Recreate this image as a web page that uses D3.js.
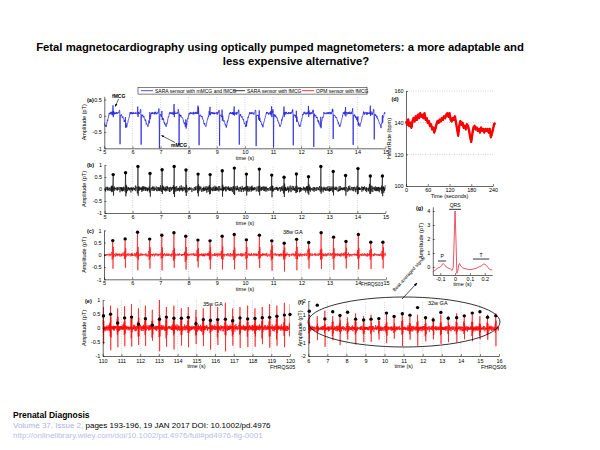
<!DOCTYPE html>
<html><head><meta charset="utf-8">
<script src="https://cdn.jsdelivr.net/npm/d3@7"></script>
<style>body{margin:0;background:#fff} text{font-family:"Liberation Sans",Arial,sans-serif}</style>
</head><body><svg id="c" width="600" height="450"></svg>
<script>
// ---------- data ----------
const titleLines = ["Fetal magnetocardiography using optically  pumped magnetometers: a more adaptable and", "less expensive alternative?"];
const legendLabels = ["SARA sensor with mMCG and fMCG", "SARA sensor with fMCG", "OPM sensor with fMCG"];
const noise = [0.3,-0.5,0.8,-0.2,0.1,-0.9,0.6,0.2,-0.4,0.7,-0.7,0.0,0.5,-0.3,0.9,-0.6,0.2,-0.1,0.4,-0.8,0.6,-0.2,0.3,-0.5,0.1,0.8,-0.4,0.2,-0.7,0.5,-0.1,0.6,-0.3,0.0,0.7,-0.9,0.4,-0.2,0.3,-0.6,0.9,-0.4,0.1,-0.3,0.5,-0.7,0.2,0.6,-0.5,0.3,-0.1,0.8,-0.6,0.4,-0.2,0.0,0.5,-0.8,0.3,-0.4,0.7,-0.1,0.2,-0.5,0.6,-0.3,0.9,-0.7,0.1,0.4,-0.2,0.5,-0.6,0.3,-0.9,0.2,0.7,-0.4,0.1,-0.3,0.6,-0.5,0.4,-0.1,0.8,-0.2,0.3,-0.7,0.5,-0.4,0.2,0.0,-0.6,0.7,-0.3,0.4,-0.8,0.1,0.6,-0.2];
// fetal beats (panels a,b,c)
const fetalTimes = [5.31,5.75,6.19,6.62,7.05,7.48,7.9,8.33,8.76,9.19,9.62,10.05,10.51,10.95,11.39,11.83,12.26,12.7,13.14,13.58,14.02,14.46,14.89];
const dotsB = [0.6,0.68,0.94,0.65,0.8,0.94,0.79,0.62,0.6,0.76,0.87,0.62,0.83,0.58,0.49,0.63,0.51,0.94,0.73,0.56,0.85,0.54,0.54];
const dotsC = [0.58,0.65,0.92,0.64,0.8,0.9,0.76,0.6,0.57,0.76,0.83,0.61,0.8,0.57,0.47,0.63,0.5,0.9,0.72,0.54,0.83,0.51,0.51];
const fetalA = [0.22,0.2,0.18,0.22,0.2,0.25,0.2,0.18,0.2,0.22,0.2,0.18,0.22,0.2,0.18,0.2,0.22,0.25,0.2,0.18,0.22,0.2,0.2];
// maternal beats (panel a)
const maternalTimes = [4.82,5.56,6.31,6.96,7.66,8.37,9.1,9.8,10.4,11.02,11.72,12.45,13.14,13.85,14.6];
const maternalAmp = [-1.0,-0.95,-1.0,-1.08,-1.0,-1.0,-1.0,-0.98,-1.0,-0.98,-1.0,-1.03,-1.0,-0.98,-0.78];
// panel e
const eTimes = [110.04,110.42,110.8,111.17,111.54,111.91,112.28,112.65,113.03,113.4,113.8,114.2,114.57,114.98,115.37,115.75,116.14,116.55,116.94,117.33,117.74,118.13,118.52,118.91,119.3,119.7,120.0];
const eDots = [0.43,0.49,0.18,0.36,0.39,0.14,0.33,0.1,0.31,0.39,0.35,0.35,0.38,0.15,0.3,0.27,0.3,0.31,0.26,0.36,0.32,0.34,0.37,0.38,0.42,0.46,0.48];
const eSpike = [0.75,0.8,0.7,0.78,0.85,0.7,0.8,0.65,1.0,0.75,0.8,0.7,0.75,0.65,0.7,0.8,0.75,0.9,0.7,0.75,0.8,0.7,0.75,0.85,0.8,0.9,0.85];
// panel f
const fTimes = [6.05,6.47,6.87,7.28,7.66,8.06,8.48,8.9,9.29,9.7,10.1,10.5,10.93,11.33,11.73,12.15,12.55,12.95,13.34,13.78,14.18,14.6,15.0,15.4,15.83];
const fDots = [1.25,1.7,0.7,1.22,0.95,1.18,0.68,0.62,0.68,0.72,1.12,0.88,1.07,0.97,1.52,0.78,0.62,1.17,0.75,0.78,0.92,1.12,1.22,0.82,0.92];
const fSpike = [1.0,0.9,1.3,0.9,1.0,0.8,1.1,0.9,1.0,0.8,1.0,0.9,1.2,0.9,1.0,0.9,0.8,1.0,0.9,1.1,0.9,1.0,0.9,1.0,1.1];
// panel d heart rate (every 3 s)
const hrValues = [141,139,142,138,140,137,141,143,141,144,142,145,143,146,144,145,143,146,142,143,140,141,138,139,136,137,134,136,139,141,140,142,141,143,142,144,143,145,146,144,146,142,141,143,142,144,140,136,132,138,141,139,140,137,138,136,139,138,135,131,128,133,137,138,136,137,135,136,134,137,135,136,134,136,135,136,134,136,131,133,136,139,140];
// panel g beat-averaged signal
const gTime = [-0.15,-0.13,-0.12,-0.11,-0.10,-0.09,-0.085,-0.08,-0.07,-0.06,-0.05,-0.04,-0.03,-0.02,-0.012,-0.006,0,0.006,0.012,0.018,0.025,0.03,0.04,0.05,0.06,0.08,0.1,0.12,0.14,0.16,0.18,0.19,0.2,0.21,0.22,0.23,0.24,0.25];
const gValue = [-0.35,-0.2,-0.1,-0.05,0.0,0.1,0.22,0.25,0.15,0.0,-0.05,-0.1,-0.15,-0.25,0.0,2.0,4.0,2.0,-0.45,-0.3,0.15,0.25,0.05,-0.05,-0.1,-0.15,-0.2,-0.15,-0.1,0.0,0.1,0.2,0.2,0.12,0.0,-0.15,-0.2,-0.2];
// ticks
const ticks5to15 = [5,6,7,8,9,10,11,12,13,14,15];
const ticksE = [110,111,112,113,114,115,116,117,118,119,120];
const ticksF = [6,7,8,9,10,11,12,13,14,15,16];

// ---------- helpers ----------
const svg = d3.select("#c");
svg.append("rect").attr("width",600).attr("height",450).attr("fill","#fff");
const defs = svg.append("defs");
defs.append("marker").attr("id","arr").attr("viewBox","0 0 10 10").attr("refX",9).attr("refY",5)
  .attr("markerWidth",5).attr("markerHeight",5).attr("orient","auto")
  .append("path").attr("d","M0,1L10,5L0,9Z").attr("fill","#000");

const FS = 5.5;
const dt = 0.01;
let clipId = 0;

function panel(o){
  const x = d3.scaleLinear().domain(o.xDom).range([o.l,o.r]);
  const y = d3.scaleLinear().domain(o.yDom).range([o.b,o.t]);
  const g = svg.append("g");
  const id = "clip"+(clipId++);
  defs.append("clipPath").attr("id",id).append("rect").attr("x",o.l).attr("y",o.t).attr("width",o.r-o.l).attr("height",o.b-o.t);
  if(o.vgrid){
    g.selectAll(".vg").data(o.xTicks.slice(1,-1)).join("line")
      .attr("x1",d=>x(d)).attr("x2",d=>x(d)).attr("y1",o.b).attr("y2",o.t)
      .attr("stroke","#8a8a8a").attr("stroke-width",0.5).attr("stroke-dasharray","0.8,1.6");
  }
  if(o.hgrid){
    g.selectAll(".hg").data(o.hgrid).join("line")
      .attr("y1",d=>y(d)).attr("y2",d=>y(d)).attr("x1",o.l).attr("x2",o.r)
      .attr("stroke","#8a8a8a").attr("stroke-width",0.5).attr("stroke-dasharray","0.8,1.6");
  }
  const plot = g.append("g").attr("clip-path",`url(#${id})`);
  const ax = g.append("g").attr("transform",`translate(0,${o.b})`)
    .call(d3.axisBottom(x).tickValues(o.xTicks).tickSizeInner(-2).tickSizeOuter(0).tickPadding(o.xPad||2.2).tickFormat(d=>String(d)));
  const ay = g.append("g").attr("transform",`translate(${o.l},0)`)
    .call(d3.axisLeft(y).tickValues(o.yTicks).tickSizeInner(-2).tickSizeOuter(0).tickPadding(2.4).tickFormat(d=>String(d)));
  [ax,ay].forEach(a=>{a.selectAll("text").attr("font-size",FS).attr("fill","#000").attr("font-family","Liberation Sans, Arial");
    a.selectAll("line").attr("stroke","#000").attr("stroke-width",0.5);
    a.select(".domain").attr("stroke","#000").attr("stroke-width",0.6);});
  g.append("text").attr("x",(o.l+o.r)/2).attr("y",o.b+ (o.xlabDy||11.5)).attr("text-anchor","middle").attr("font-size",FS).text(o.xlabel);
  g.append("text").attr("transform",`translate(${o.ylabX},${(o.t+o.b)/2}) rotate(-90)`).attr("text-anchor","middle").attr("font-size",FS).text(o.ylabel);
  g.append("text").attr("x",o.tagX).attr("y",o.tagY).attr("font-size",FS).attr("font-weight","bold").text(o.tag);
  return {x,y,g,plot};
}

function makeBeat(t, offs, vals, peak){
  return {t:Math.round(t*100)/100, s:d3.scaleLinear().domain(offs).range(vals), lo:offs[0], hi:offs[offs.length-1], peak};
}
function trace(t0,t1,base,namp,off,beats){
  const n = Math.round((t1-t0)/dt), out=[];
  for(let i=0;i<=n;i++){
    const t = Math.round((t0+i*dt)*100)/100;
    let v = base + namp*(noise[(i+off)%100]*0.6 + noise[(i*7+off*3+5)%97]*0.4);
    for(const b of beats){
      const d = Math.round((t-b.t)*1000)/1000;
      if(d>=b.lo && d<=b.hi){ v += b.s(d); if(d===0 && b.peak!==undefined) v = b.peak; }
    }
    out.push({t,v});
  }
  return out;
}
function drawLine(p, data, color, w){
  p.plot.append("path").datum(data).attr("fill","none").attr("stroke",color).attr("stroke-width",w).attr("stroke-linejoin","round")
    .attr("d",d3.line().x(d=>p.x(d.t)).y(d=>p.y(d.v)));
}
function drawDots(p, ts, vs){
  p.g.selectAll(null).data(ts).join("circle").attr("cx",d=>p.x(d)).attr("cy",(d,i)=>p.y(vs[i])).attr("r",1.7).attr("fill","#000");
}
const FOFF = [-0.04,-0.03,-0.02,-0.01,0,0.01,0.02,0.03,0.04];
const MOFF = [-0.05,-0.02,-0.01,0,0.01,0.02,0.06,0.12,0.18,0.24,0.3,0.36];

// ---------- title ----------
svg.append("text").attr("x",280).attr("y",51).attr("text-anchor","middle").attr("font-size",11.3).attr("font-weight","bold").text(titleLines[0]);
svg.append("text").attr("x",296).attr("y",65).attr("text-anchor","middle").attr("font-size",11.3).attr("font-weight","bold").text(titleLines[1]);

// ---------- panel a ----------
const pa = panel({l:104.3,r:385.5,t:96.3,b:148.3,xDom:[5,15],yDom:[-1,0.6],xTicks:ticks5to15,yTicks:[-1,-0.5,0,0.5],
  vgrid:true,xlabel:"time (s)",ylabel:"Amplitude (pT)",ylabX:86,tag:"(a)",tagX:87,tagY:101.5,xlabDy:12});
const beatsA = fetalTimes.map((t,i)=>makeBeat(t,FOFF,[0,0.03,-0.04,0.06,fetalA[i],-0.1,0.04,-0.02,0]))
  .concat(maternalTimes.map((t,i)=>makeBeat(t,MOFF,[0,0.12,0.05,maternalAmp[i],-0.1,-0.05,-0.08,-0.15,-0.3,-0.42,-0.2,0])));
drawLine(pa, trace(5,15,0.08,0.06,3,beatsA), "#2323dc", 0.75);
// legend
const lg = svg.append("g");
lg.append("rect").attr("x",138).attr("y",87.3).attr("width",229).attr("height",6.8).attr("fill","#fff").attr("stroke","#000").attr("stroke-width",0.5);
const legColors = ["#2323dc","#000","#ff0000"], legX = [141,233,302];
legendLabels.forEach((s,i)=>{
  lg.append("line").attr("x1",legX[i]).attr("x2",legX[i]+12).attr("y1",90.7).attr("y2",90.7).attr("stroke",legColors[i]).attr("stroke-width",0.8);
  lg.append("text").attr("x",legX[i]+14).attr("y",92.5).attr("font-size",5).text(s);
});
svg.append("text").attr("x",112).attr("y",97.5).attr("font-size",5).attr("font-weight","bold").text("fMCG");
svg.append("line").attr("x1",118.5).attr("y1",99).attr("x2",115.3).attr("y2",106.5).attr("stroke","#000").attr("stroke-width",0.6).attr("marker-end","url(#arr)");
svg.append("text").attr("x",171).attr("y",147).attr("font-size",5).attr("font-weight","bold").text("mMCG");
svg.append("line").attr("x1",175).attr("y1",142.5).attr("x2",161.5).attr("y2",135.5).attr("stroke","#000").attr("stroke-width",0.6).attr("marker-end","url(#arr)");

// ---------- panel b ----------
const pb = panel({l:104.5,r:385.5,t:165,b:213,xDom:[5,15],yDom:[-1,1],xTicks:ticks5to15,yTicks:[-1,-0.5,0,0.5,1],
  vgrid:true,xlabel:"time (s)",ylabel:"Amplitude (pT)",ylabX:86,tag:"(b)",tagX:87,tagY:167});
const beatsB = fetalTimes.map((t,i)=>makeBeat(t,FOFF,[0,0.1,-0.15,0.2,dotsB[i]-0.03,-0.3,0.15,-0.05,0],dotsB[i]-0.03));
drawLine(pb, trace(5,15,0,0.18,41,beatsB), "#000", 0.6);
drawDots(pb, fetalTimes, dotsB);

// ---------- panel c ----------
const pc = panel({l:104,r:386,t:230.3,b:279.3,xDom:[5,15],yDom:[-1,1],xTicks:ticks5to15,yTicks:[-1,-0.5,0,0.5,1],
  vgrid:true,xlabel:"time (s)",ylabel:"Amplitude (pT)",ylabX:86,tag:"(c)",tagX:87,tagY:232.5});
const beatsC = fetalTimes.map((t,i)=>makeBeat(t,FOFF,[0,0.15,-0.2,0.25,dotsC[i]-0.06,-0.6,0.3,-0.15,0],dotsC[i]-0.06));
drawLine(pc, trace(5,15,0,0.1,17,beatsC), "#ff0000", 0.6);
drawDots(pc, fetalTimes, dotsC);
svg.append("text").attr("x",283).attr("y",233.5).attr("font-size",5.5).text("38w GA");
svg.append("text").attr("x",361).attr("y",285.5).attr("font-size",4.8).text("FHRQS03");

// ---------- panel d ----------
const pd = panel({l:406,r:493,t:91,b:186,xDom:[0,240],yDom:[100,160],xTicks:[0,60,120,180,240],yTicks:[100,120,140,160],
  hgrid:[120,140,160],xlabel:"Time (seconds)",ylabel:"HeartRate (bpm)",ylabX:391,tag:"(d)",tagX:391.5,tagY:100.5,xlabDy:12});
const hrData = hrValues.map((v,i)=>({t:i*3, v}));
pd.g.append("path").datum(hrData).attr("fill","none").attr("stroke","#000").attr("stroke-width",1)
  .attr("d",d3.line().x(d=>pd.x(d.t)).y(d=>pd.y(d.v-0.8)));
pd.g.append("path").datum(hrData).attr("fill","none").attr("stroke","#ff0000").attr("stroke-width",2.4).attr("stroke-linejoin","round")
  .attr("d",d3.line().x(d=>pd.x(d.t)).y(d=>pd.y(d.v)));

// ---------- panel g ----------
const pg = panel({l:432.8,r:492.2,t:206.8,b:275,xDom:[-0.15,0.25],yDom:[-0.57,4.3],xTicks:[-0.1,0,0.1,0.2],yTicks:[0,1,2,3,4],
  xlabel:"time (s)",ylabel:"Amplitude (pT)",ylabX:423,tag:"(g)",tagX:416,tagY:210,xlabDy:11});
const gData = gTime.map((t,i)=>({t, v:gValue[i]}));
pg.g.append("path").datum(gData).attr("fill","none").attr("stroke","#e8283c").attr("stroke-width",0.8)
  .attr("d",d3.line().x(d=>pg.x(d.t)).y(d=>pg.y(d.v)));
const gBars = [{a:-0.04,b:0.04,v:4.12,s:"QRS"},{a:-0.115,b:-0.06,v:0.43,s:"P"},{a:0.12,b:0.23,v:0.57,s:"T"}];
gBars.forEach(d=>{
  pg.g.append("line").attr("x1",pg.x(d.a)).attr("x2",pg.x(d.b)).attr("y1",pg.y(d.v)).attr("y2",pg.y(d.v)).attr("stroke","#000").attr("stroke-width",0.8);
  pg.g.append("text").attr("x",pg.x((d.a+d.b)/2)).attr("y",pg.y(d.v)-2.5).attr("text-anchor","middle").attr("font-size",5).text(d.s);
});
svg.append("text").attr("transform","translate(410,275) rotate(-48)").attr("text-anchor","middle").attr("font-size",4.8).text("Beat-averaged signal");
svg.append("line").attr("x1",402).attr("y1",299).attr("x2",417).attr("y2",283).attr("stroke","#000").attr("stroke-width",0.7).attr("marker-end","url(#arr)");

// ---------- panel e ----------
const pe = panel({l:102.7,r:290,t:300,b:356,xDom:[110,120],yDom:[-1,1],xTicks:ticksE,yTicks:[-1,-0.5,0,0.5,1],xPad:3,
  vgrid:true,xlabel:"time (s)",ylabel:"Amplitude (pT)",ylabX:86,tag:"(e)",tagX:85,tagY:302.5});
const beatsE = eTimes.map((t,i)=>makeBeat(t,FOFF,[0,0.25,-0.3,0.4,eSpike[i],-eSpike[i]*0.85,0.35,-0.2,0],eSpike[i]));
drawLine(pe, trace(110,120,0,0.16,29,beatsE), "#ff0000", 0.6);
drawDots(pe, eTimes, eDots);
svg.append("text").attr("x",203).attr("y",306).attr("font-size",5.5).text("35w GA");
svg.append("text").attr("x",270).attr("y",369).attr("font-size",5.5).text("FHRQS05");

// ---------- panel f ----------
const pf = panel({l:308.3,r:499,t:301,b:356,xDom:[6,16],yDom:[-2,2],xTicks:ticksF,yTicks:[-2,-1,0,1,2],xPad:3,
  vgrid:true,xlabel:"time (s)",ylabel:"Amplitude (pT)",ylabX:302,tag:"(f)",tagX:298,tagY:303.5});
const beatsF = fTimes.map((t,i)=>makeBeat(t,FOFF,[0,0.35,-0.4,0.5,fSpike[i],-fSpike[i],0.45,-0.3,0],fSpike[i]));
drawLine(pf, trace(6,16,0,0.28,61,beatsF), "#ff0000", 0.6);
drawDots(pf, fTimes, fDots);
svg.append("ellipse").attr("cx",404).attr("cy",322).attr("rx",96).attr("ry",25).attr("fill","none").attr("stroke","#000").attr("stroke-width",0.8);
svg.append("text").attr("x",428).attr("y",305).attr("font-size",5.5).text("32w GA");
svg.append("text").attr("x",481).attr("y",369).attr("font-size",5.5).text("FHRQS06");

// ---------- footer ----------
svg.append("text").attr("x",13).attr("y",418).attr("font-size",8.5).attr("font-weight","bold").text("Prenatal Diagnosis");
const l2 = svg.append("text").attr("x",13).attr("y",428).attr("font-size",8);
l2.append("tspan").attr("fill","#aab2e6").text("Volume 37, Issue 2, ");
l2.append("tspan").attr("fill","#000").text("pages 193-196, 19 JAN 2017 DOI: 10.1002/pd.4976");
svg.append("text").attr("x",13).attr("y",438).attr("font-size",8).attr("fill","#b8bde8").text("http://onlinelibrary.wiley.com/doi/10.1002/pd.4976/full#pd4976-fig-0001");
</script></body></html>
